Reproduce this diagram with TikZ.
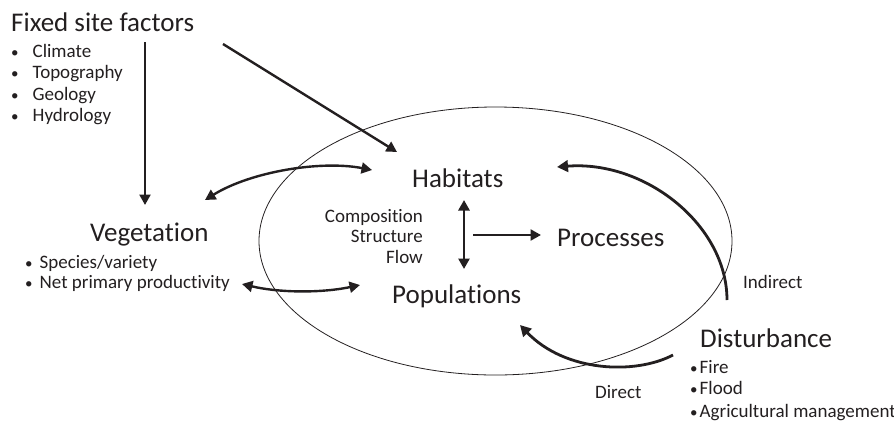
\documentclass[tikz,border=0pt]{standalone}
\usepackage{fontspec}
\setmainfont{Carlito}[Ligatures={NoCommon}]
\usetikzlibrary{arrows.meta,shapes.geometric}
\definecolor{ink}{RGB}{35,31,32}
\newcommand{\blt}{{\fontsize{15}{15}\selectfont •}}
\begin{document}
\begin{tikzpicture}[x=1pt,y=-1pt,
  big/.style={font=\fontsize{27}{30}\selectfont, text=ink, inner sep=0pt, anchor=base west},
  small/.style={font=\fontsize{19}{22}\selectfont, text=ink, inner sep=0pt, anchor=base west},
  smallr/.style={small, anchor=base east},
  arr/.style={line width=2.4pt, draw=ink, -{Triangle[length=10.5pt,width=11pt]}},
  darr/.style={line width=2.4pt, draw=ink, {Triangle[length=10.5pt,width=11pt]}-{Triangle[length=10.5pt,width=11pt]}},
  carr/.style={line width=2.8pt, draw=ink, -{Triangle[length=11pt,width=11.5pt]}},
  field/.style={ellipse, draw=ink, line width=0.8pt, inner sep=0pt, minimum width=473pt, minimum height=268pt},
]
\useasboundingbox (0,0) rectangle (894,421);

% boundary ellipse
\node[field] (fieldell) at (495.5,241) {};

% Fixed site factors
\node[big] (fsf) at (11,31) {Fixed site factors};
\node[small] (fsf1) at (11,57) {\blt\hspace{14pt}Climate};
\node[small] (fsf2) at (11,78) {\blt\hspace{14pt}Topography};
\node[small] (fsf3) at (11,100) {\blt\hspace{14pt}Geology};
\node[small] (fsf4) at (11,121) {\blt\hspace{14pt}Hydrology};

% Vegetation
\node[big] (veg) at (90,241) {Vegetation};
\node[small] (veg1) at (25,268) {\blt\hspace{7pt}Species/variety};
\node[small] (veg2) at (25,288) {\blt\hspace{7pt}Net primary productivity};

% Centre
\node[big] (hab) at (412,187) {Habitats};
\node[big] (pop) at (392,303) {Populations};
\node[big] (proc) at (557,246) {Processes};
\node[smallr] (comp) at (423,222) {Composition};
\node[smallr] (struct) at (423,242) {Structure};
\node[smallr] (flow) at (423,263) {Flow};

% Disturbance
\node[big] (dist) at (700,347) {Disturbance};
\node[small] (dist1) at (690,373) {\blt\hspace{2pt}Fire};
\node[small] (dist2) at (690,394) {\blt\hspace{2pt}Flood};
\node[small] (dist3) at (690,417) {\blt\hspace{2pt}Agricultural management};
\node[small] (ind) at (743,288) {Indirect};
\node[small] (dir) at (595,398) {Direct};

% connector end points
\coordinate (fsfA) at (145,42);
\coordinate (vegA) at (145,205);
\coordinate (fsfB) at (223,44);
\coordinate (habB) at (397,152);
\coordinate (vegC) at (205,200);
\coordinate (habC) at (372,170);
\coordinate (vegD) at (242,284);
\coordinate (popD) at (360,285);
\coordinate (habE) at (464,200);
\coordinate (popE) at (464,269);
\coordinate (cenF) at (473,235);
\coordinate (procF) at (541,235);
\coordinate (distG) at (727,300);
\coordinate (habG) at (557,167);
\coordinate (distH) at (673,355);
\coordinate (popH) at (520,325);

% connectors
\draw[arr] (fsfA) -- (vegA);
\draw[arr] (fsfB) -- (habB);
\draw[darr] (vegC) .. controls (250,172) and (320,160) .. (habC);
\draw[darr] (vegD) .. controls (280,293) and (322,293) .. (popD);
\draw[darr, line width=2.8pt] (habE) -- (popE);
\draw[arr] (cenF) -- (procF);
\draw[carr] (distG) .. controls (727,225) and (645,160) .. (habG);
\draw[carr] (distH) .. controls (635,375) and (565,372) .. (popH);
\end{tikzpicture}
\end{document}
